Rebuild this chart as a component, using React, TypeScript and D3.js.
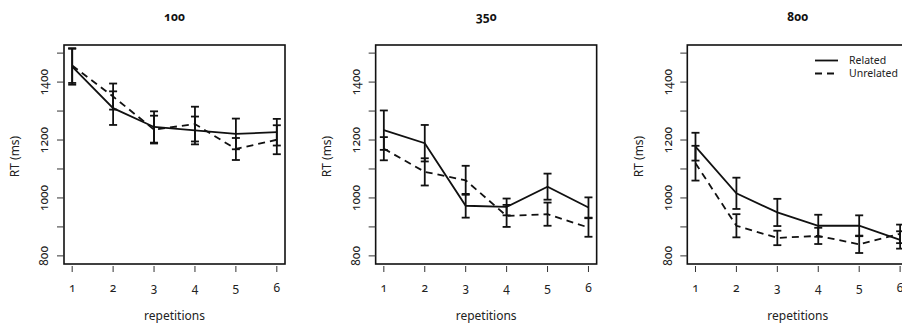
import React from "react";
import * as d3 from "d3";

const panelTitles = ["100", "350", "800"];
const repetitions = [1, 2, 3, 4, 5, 6];
const yTicks = [800, 900, 1000, 1100, 1200, 1300, 1400, 1500];
const yTickLabels = [800, 1000, 1200, 1400];

// Related: means and error half-widths per panel
const relatedMean = [
  [1453, 1310, 1245, 1233, 1221, 1227],
  [1234, 1189, 973, 969, 1039, 967],
  [1177, 1016, 950, 904, 904, 855],
];
const relatedErr = [
  [62, 58, 54, 48, 53, 46],
  [68, 63, 41, 29, 45, 35],
  [48, 54, 47, 38, 36, 30],
];
const unrelatedMean = [
  [1457, 1350, 1236, 1255, 1169, 1201],
  [1170, 1090, 1061, 938, 944, 898],
  [1120, 904, 862, 869, 840, 876],
];
const unrelatedErr = [
  [60, 45, 48, 60, 38, 50],
  [40, 47, 50, 38, 40, 32],
  [60, 40, 25, 28, 30, 32],
];

const FONT = "'Noto Sans', 'Open Sans', sans-serif";
const panelLefts = [64, 375.65, 687.3];
const boxW = 221;
const boxTop = 45;
const boxBottom = 264;

function Panel({ idx }: { idx: number }) {
  const left = panelLefts[idx];
  const x = d3.scaleLinear().domain([0.8, 6.2]).range([left, left + boxW]);
  const y = d3.scaleLinear().domain([772, 1528]).range([boxBottom, boxTop]);
  const line = d3
    .line<number>()
    .x((_, i) => x(repetitions[i]))
    .y((d) => y(d));
  const cap = 4;
  const series = [
    { mean: relatedMean[idx], err: relatedErr[idx], dash: undefined },
    { mean: unrelatedMean[idx], err: unrelatedErr[idx], dash: "7,5" },
  ];
  const cx = left + boxW / 2;
  return (
    <g>
      <text
        x={cx}
        y={21}
        textAnchor="middle"
        fontSize={12}
        fontWeight="bold"
        fill="#111"
        style={{ fontFeatureSettings: "'onum'" }}
      >
        {panelTitles[idx]}
      </text>
      <rect
        x={left}
        y={boxTop}
        width={boxW}
        height={boxBottom - boxTop}
        fill="none"
        stroke="#111"
        strokeWidth={1.6}
      />
      {yTicks.map((t) => (
        <line key={t} x1={left - 7} x2={left} y1={y(t)} y2={y(t)} stroke="#333" strokeWidth={1} />
      ))}
      {yTickLabels.map((t) => (
        <text
          key={t}
          transform={`translate(${left - 20},${y(t)}) rotate(-90)`}
          textAnchor="middle"
          dy="0.35em"
          fontSize={12}
          fill="#222"
          style={{ fontFeatureSettings: "'onum'" }}
        >
          {t}
        </text>
      ))}
      <text
        transform={`translate(${left - 49},${(boxTop + boxBottom) / 2 + 2}) rotate(-90)`}
        textAnchor="middle"
        dy="0.35em"
        fontSize={12}
        fill="#222"
      >
        RT (ms)
      </text>
      {repetitions.map((r) => (
        <g key={r}>
          <line x1={x(r)} x2={x(r)} y1={boxBottom + 2} y2={boxBottom + 8} stroke="#333" strokeWidth={1} />
          <text
            x={x(r)}
            y={292}
            textAnchor="middle"
            fontSize={12}
            fill="#222"
            style={{ fontFeatureSettings: "'onum'" }}
          >
            {r}
          </text>
        </g>
      ))}
      <text x={cx} y={320} textAnchor="middle" fontSize={12} fill="#222">
        repetitions
      </text>
      {series.map((s, si) => (
        <g key={si}>
          <path
            d={line(s.mean) || ""}
            fill="none"
            stroke="#111"
            strokeWidth={1.8}
            strokeDasharray={s.dash}
          />
          {s.mean.map((m, i) => {
            const xx = x(repetitions[i]);
            const lo = y(m - s.err[i]);
            const hi = y(m + s.err[i]);
            return (
              <g key={i} stroke="#111" strokeWidth={1.8}>
                <line x1={xx} x2={xx} y1={lo} y2={hi} />
                <line x1={xx - cap} x2={xx + cap} y1={lo} y2={lo} />
                <line x1={xx - cap} x2={xx + cap} y1={hi} y2={hi} />
              </g>
            );
          })}
        </g>
      ))}
    </g>
  );
}

export default function App() {
  return (
    <svg
      width={902}
      height={323}
      style={{ position: "absolute", left: 0, top: 0, background: "#fff" }}
      fontFamily={FONT}
    >
      <rect width={902} height={323} fill="#fff" />
      {[0, 1, 2].map((i) => (
        <Panel key={i} idx={i} />
      ))}
      <g>
        <line x1={815} x2={838} y1={60.5} y2={60.5} stroke="#111" strokeWidth={1.8} />
        <line x1={815} x2={838} y1={73.5} y2={73.5} stroke="#111" strokeWidth={1.8} strokeDasharray="7,5" />
        <text x={849} y={60.5} dy="0.35em" fontSize={10.5} fill="#222">
          Related
        </text>
        <text x={849} y={73.5} dy="0.35em" fontSize={10.5} fill="#222">
          Unrelated
        </text>
      </g>
    </svg>
  );
}
